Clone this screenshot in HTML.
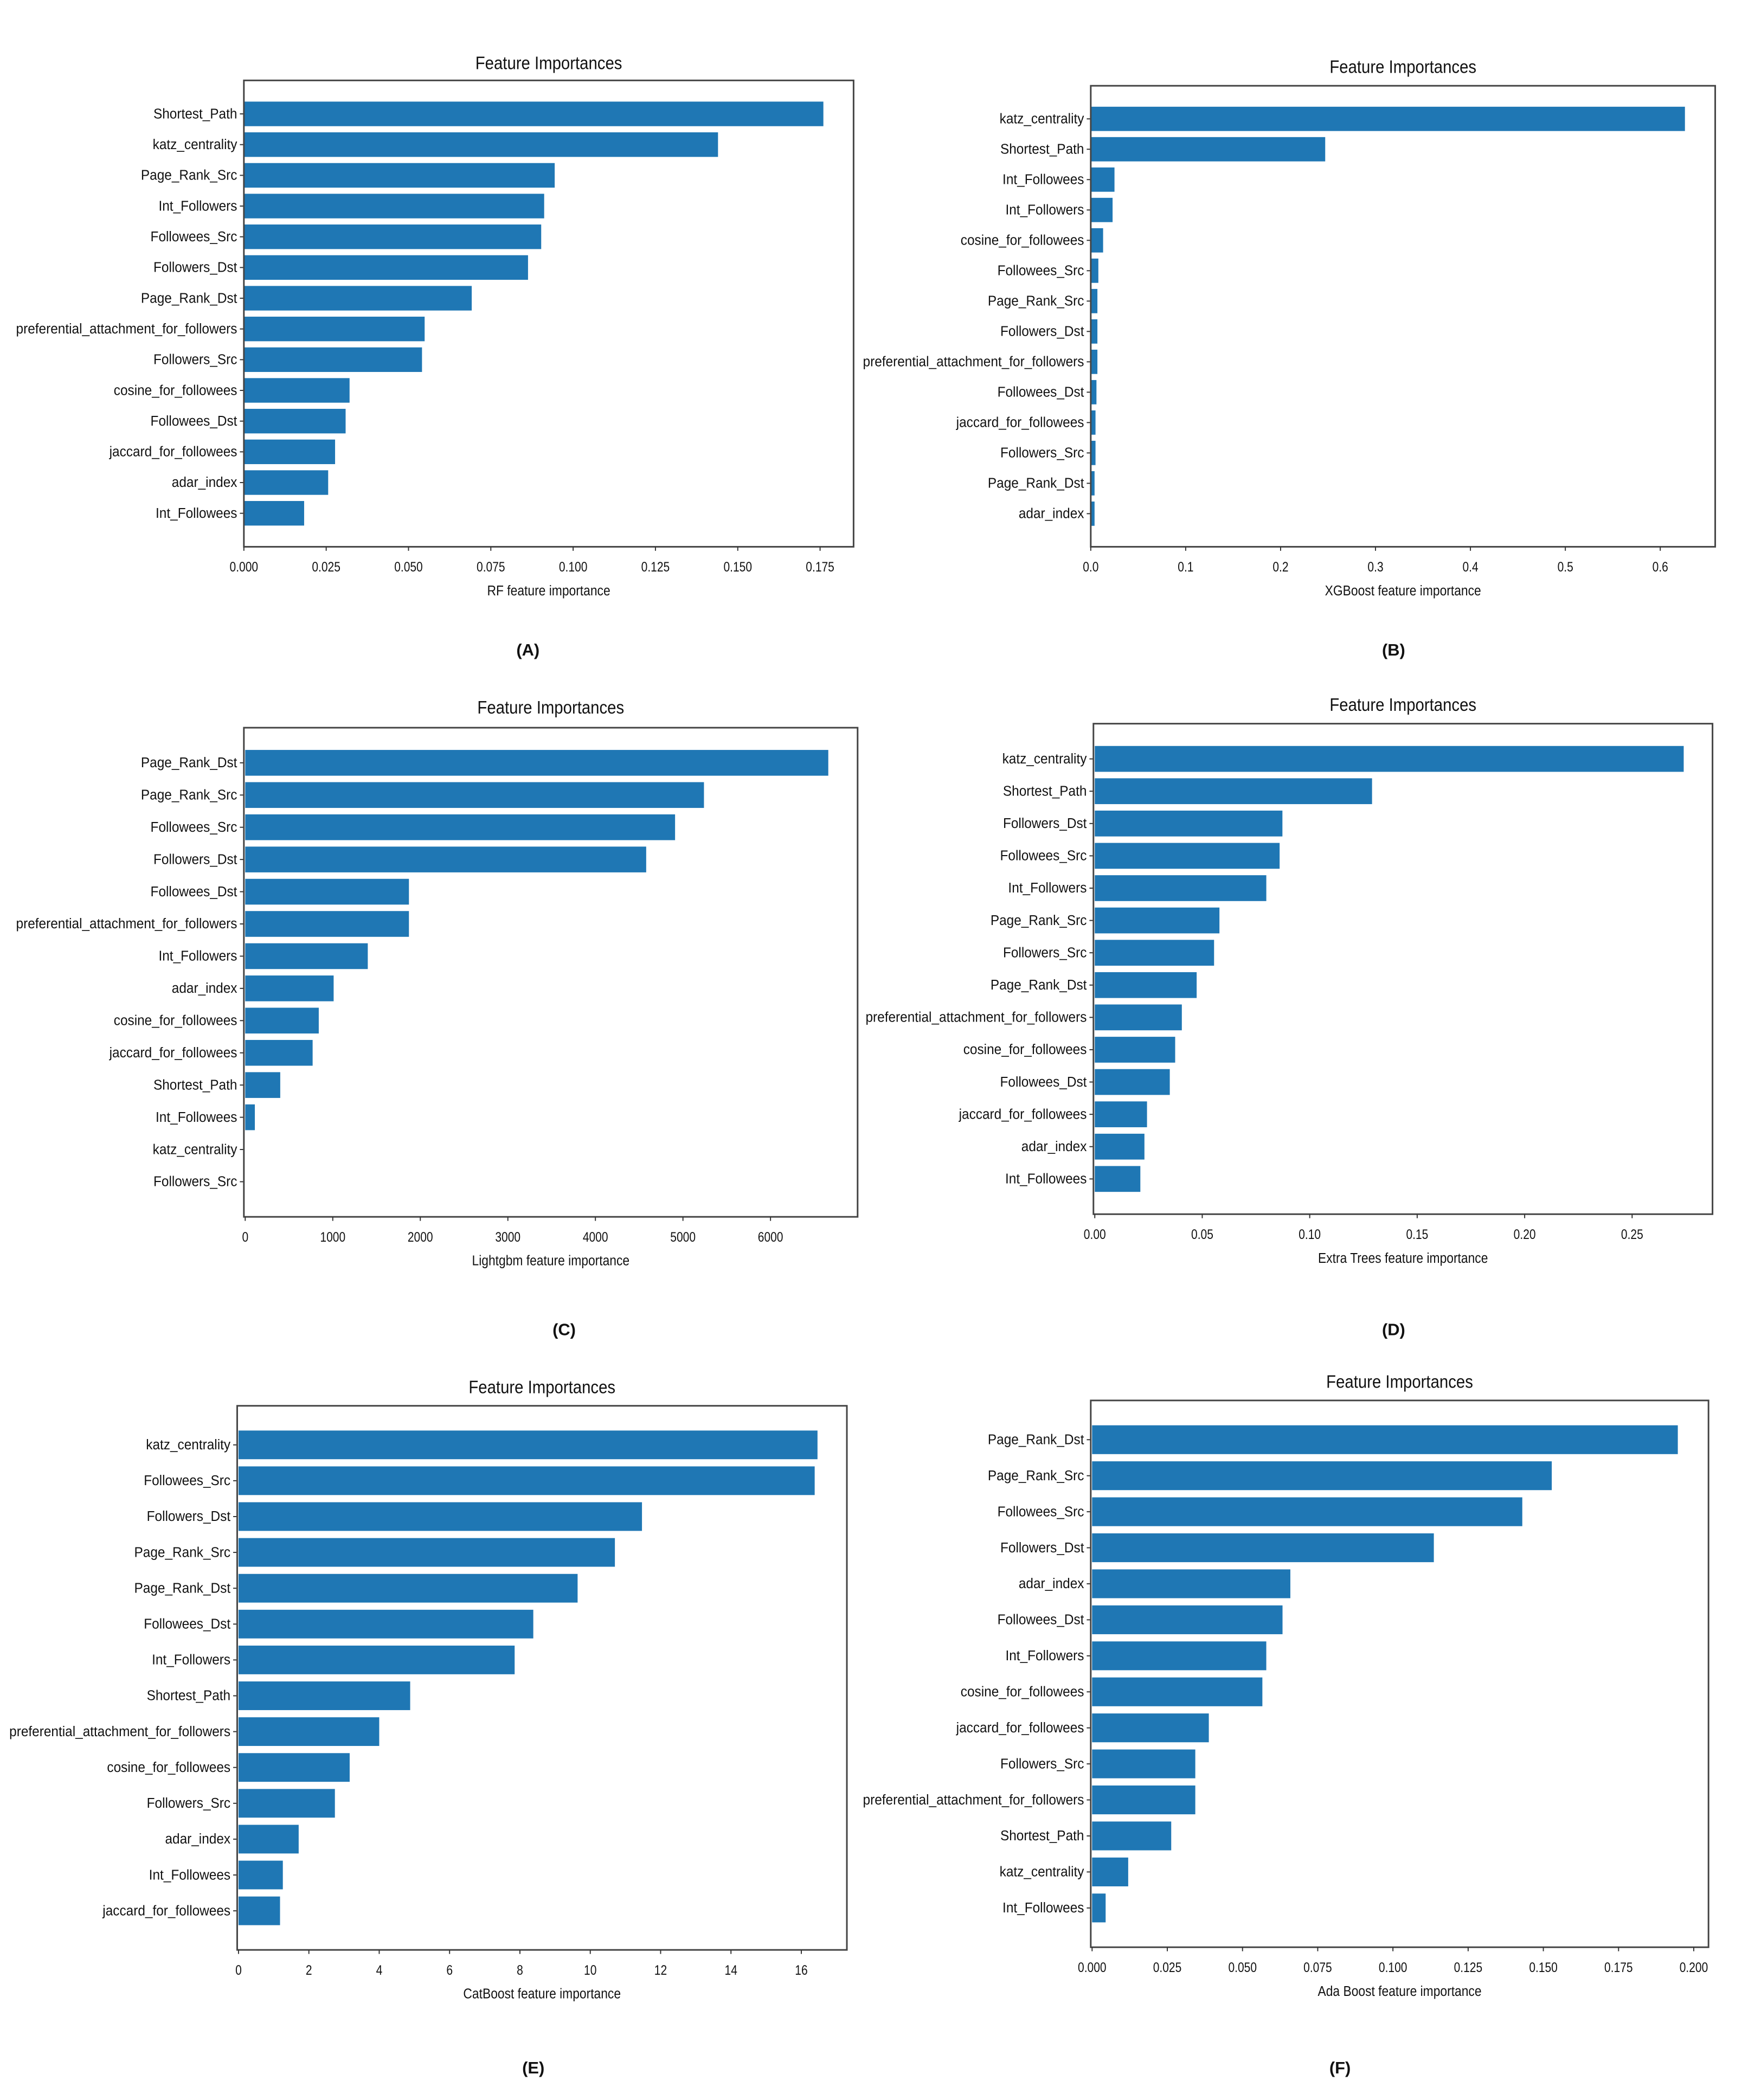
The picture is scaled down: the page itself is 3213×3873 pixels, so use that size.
<!DOCTYPE html>
<html><head><meta charset="utf-8">
<style>
html,body{margin:0;padding:0;background:#fff;}
svg{display:block;}
text{font-family:"Liberation Sans",sans-serif;fill:#111;}
</style></head>
<body>
<svg id="fig" width="3213" height="3873" viewBox="0 0 1300 1567" preserveAspectRatio="none" xmlns="http://www.w3.org/2000/svg"></svg>
<script>
// ---- data ----
const labelsA = ["Shortest_Path","katz_centrality","Page_Rank_Src","Int_Followers","Followees_Src","Followers_Dst","Page_Rank_Dst","preferential_attachment_for_followers","Followers_Src","cosine_for_followees","Followees_Dst","jaccard_for_followees","adar_index","Int_Followees"];
const valuesA = [0.176,0.144,0.0944,0.0912,0.0903,0.0863,0.0692,0.0549,0.0541,0.0321,0.0309,0.0277,0.0256,0.0183];
const ticksA = ["0.000","0.025","0.050","0.075","0.100","0.125","0.150","0.175"];

const labelsB = ["katz_centrality","Shortest_Path","Int_Followees","Int_Followers","cosine_for_followees","Followees_Src","Page_Rank_Src","Followers_Dst","preferential_attachment_for_followers","Followees_Dst","jaccard_for_followees","Followers_Src","Page_Rank_Dst","adar_index"];
const valuesB = [0.626,0.247,0.025,0.023,0.013,0.008,0.007,0.007,0.007,0.006,0.005,0.005,0.004,0.004];
const ticksB = ["0.0","0.1","0.2","0.3","0.4","0.5","0.6"];

const labelsC = ["Page_Rank_Dst","Page_Rank_Src","Followees_Src","Followers_Dst","Followees_Dst","preferential_attachment_for_followers","Int_Followers","adar_index","cosine_for_followees","jaccard_for_followees","Shortest_Path","Int_Followees","katz_centrality","Followers_Src"];
const valuesC = [6660,5240,4910,4580,1870,1870,1400,1010,840,770,400,110,0,0];
const ticksC = ["0","1000","2000","3000","4000","5000","6000"];

const labelsD = ["katz_centrality","Shortest_Path","Followers_Dst","Followees_Src","Int_Followers","Page_Rank_Src","Followers_Src","Page_Rank_Dst","preferential_attachment_for_followers","cosine_for_followees","Followees_Dst","jaccard_for_followees","adar_index","Int_Followees"];
const valuesD = [0.274,0.129,0.0873,0.0860,0.0798,0.0580,0.0555,0.0474,0.0405,0.0374,0.0349,0.0243,0.0231,0.0212];
const ticksD = ["0.00","0.05","0.10","0.15","0.20","0.25"];

const labelsE = ["katz_centrality","Followees_Src","Followers_Dst","Page_Rank_Src","Page_Rank_Dst","Followees_Dst","Int_Followers","Shortest_Path","preferential_attachment_for_followers","cosine_for_followees","Followers_Src","adar_index","Int_Followees","jaccard_for_followees"];
const valuesE = [16.46,16.38,11.47,10.7,9.64,8.38,7.85,4.88,4.0,3.16,2.74,1.71,1.26,1.18];
const ticksE = ["0","2","4","6","8","10","12","14","16"];

const labelsF = ["Page_Rank_Dst","Page_Rank_Src","Followees_Src","Followers_Dst","adar_index","Followees_Dst","Int_Followers","cosine_for_followees","jaccard_for_followees","Followers_Src","preferential_attachment_for_followers","Shortest_Path","katz_centrality","Int_Followees"];
const valuesF = [0.1947,0.1528,0.1430,0.1136,0.0659,0.0633,0.0579,0.0566,0.0388,0.0343,0.0343,0.0263,0.0120,0.0045];
const ticksF = ["0.000","0.025","0.050","0.075","0.100","0.125","0.150","0.175","0.200"];

const panels = [
 {id:"a",labels:labelsA,values:valuesA,ticks:ticksA,box:[182,60,637,408],x0:182,xs:(612-182)/0.175,xlabel:"RF feature importance",cap:"(A)",capX:394,capY:485,titleY:47},
 {id:"b",labels:labelsB,values:valuesB,ticks:ticksB,box:[814,64,1280,408],x0:814,xs:(1239-814)/0.6,xlabel:"XGBoost feature importance",cap:"(B)",capX:1040,capY:485,titleY:50},
 {id:"c",labels:labelsC,values:valuesC,ticks:ticksC,box:[182,543,640,908],x0:183,xs:(575-183)/6000,xlabel:"Lightgbm feature importance",cap:"(C)",capX:421,capY:992,titleY:528},
 {id:"d",labels:labelsD,values:valuesD,ticks:ticksD,box:[816,540,1278,906],x0:817,xs:(1218-817)/0.25,xlabel:"Extra Trees feature importance",cap:"(D)",capX:1040,capY:992,titleY:526},
 {id:"e",labels:labelsE,values:valuesE,ticks:ticksE,box:[177,1049,632,1455],x0:178,xs:(598-178)/16,xlabel:"CatBoost feature importance",cap:"(E)",capX:398,capY:1543,titleY:1035},
 {id:"f",labels:labelsF,values:valuesF,ticks:ticksF,box:[814,1045,1275,1453],x0:815,xs:(1264-815)/0.2,xlabel:"Ada Boost feature importance",cap:"(F)",capX:1000,capY:1543,titleY:1031}
];

const NS="http://www.w3.org/2000/svg";
const svg=document.getElementById("fig");
function mk(tag,attrs,parent){const e=document.createElementNS(NS,tag);for(const k in attrs)e.setAttribute(k,attrs[k]);(parent||svg).appendChild(e);return e;}
function txt(x,y,s,size,anchor,parent,sx,weight){
  const t=mk("text",{transform:`translate(${x},${y}) scale(${sx||0.8},1)`,"font-size":size,"text-anchor":anchor||"middle","dominant-baseline":"central"},parent);
  if(weight)t.setAttribute("font-weight",weight);
  t.textContent=s;return t;}

panels.forEach(p=>{
  const g=mk("g",{});
  
  
  const [l,t,r,b]=p.box; const h=b-t; const unit=h/15.18;
  const X=v=>p.x0+v*p.xs;
  const Y=i=>t+(1.09+i)*unit;
  p.values.forEach((v,i)=>{
    const rc=mk("rect",{x:X(0),y:Y(i)-0.4*unit,width:Math.max(0,X(v)-X(0)),height:0.8*unit,fill:"#1f77b4"},g);
    
    
    mk("line",{x1:l-3,x2:l,y1:Y(i),y2:Y(i),stroke:"#333","stroke-width":0.8},g);
    const lt=txt(l-5,Y(i),p.labels[i],10.5,"end",g,0.94);
    
    
  });
  const fr=mk("rect",{x:l,y:t,width:r-l,height:b-t,fill:"none",stroke:"#444","stroke-width":1.2},g);
  
  
  p.ticks.forEach(s=>{
    const v=parseFloat(s), x=X(v);
    mk("line",{x1:x,x2:x,y1:b,y2:b+3,stroke:"#333","stroke-width":0.8},g);
    const tl=txt(x,b+15,s,10,"middle",g,0.85);
    
    
  });
  const ti=txt((l+r)/2,p.titleY,"Feature Importances",13.5,"middle",g,0.88);
  
  
  const xl=txt((l+r)/2,b+33,p.xlabel,10.5,"middle",g,0.88);
  
  
  const cp=txt(p.capX,p.capY,p.cap,12.5,"middle",g,1,"bold");
  
  
});
</script>
</body></html>
